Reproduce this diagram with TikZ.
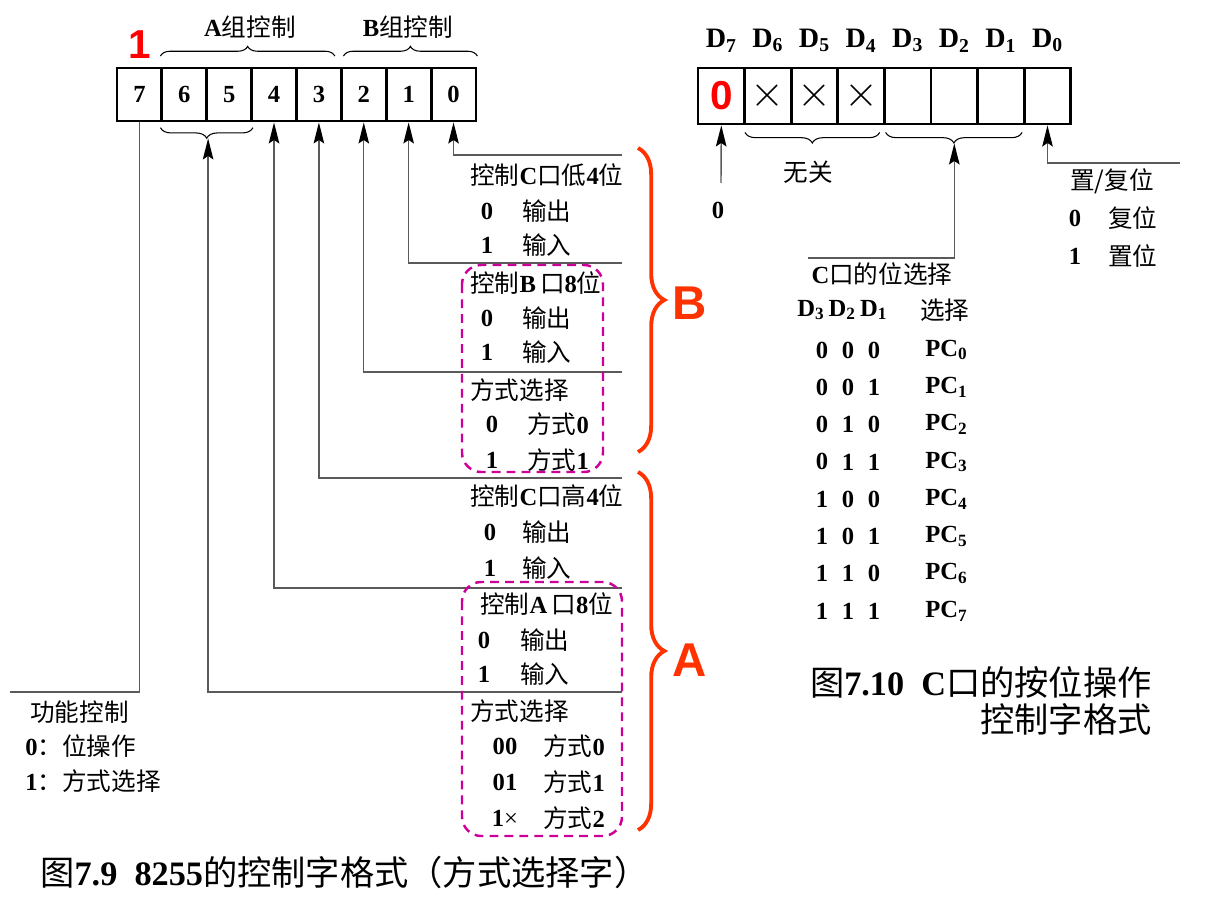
\documentclass[tikz,border=0pt]{standalone}
\usepackage{fontspec}
\setmainfont{Liberation Serif}
\newfontfamily\cjk{Noto Sans CJK SC}
\newfontfamily\sansfont{Liberation Sans}
\usepackage{tikz}
\usetikzlibrary{positioning,calc,arrows.meta,decorations.pathreplacing}

\newcommand{\zh}[1]{{\cjk\mdseries #1}}
\definecolor{markred}{RGB}{255,0,0}
\definecolor{bracered}{RGB}{255,51,0}
\definecolor{boxpink}{RGB}{204,0,153}
\definecolor{linegray}{RGB}{90,90,90}

\tikzset{
  txt/.style={inner sep=0pt, font=\fontsize{14}{16}\selectfont\bfseries},
  captxt/.style={inner sep=0pt, font=\fontsize{19.5}{24}\selectfont\bfseries},
  cell/.style={draw, line width=1.6pt, minimum width=0.8975cm, minimum height=1.06cm, inner sep=0pt, font=\fontsize{14}{16}\selectfont\bfseries},
  rcell/.style={draw, line width=1.6pt, minimum width=0.932cm, minimum height=1.12cm, inner sep=0pt},
  conn/.style={line width=0.8pt, linegray},
  arr/.style={conn, -{Stealth[length=12pt,width=6pt,inset=2pt,color=black]}},
  grpbrace/.style={decorate, decoration={brace, amplitude=5.5pt}, line width=0.6pt},
  lowbrace/.style={decorate, decoration={brace, mirror, amplitude=6pt}, line width=0.6pt},
  bigbrace/.style={decorate, decoration={brace, amplitude=15pt}, line width=2.2pt, bracered},
  pinkbox/.style={draw=boxpink, line width=1.4pt, dash pattern=on 5pt off 3.5pt, rounded corners=11pt},
  bigmark/.style={inner sep=0pt, font=\sansfont\bfseries\fontsize{27}{30}\selectfont, bracered},
  redmark/.style={inner sep=0pt, font=\sansfont\bfseries\fontsize{23}{26}\selectfont, markred},
}

\begin{document}
\begin{tikzpicture}[x=0.02cm,y=-0.02cm]
    \useasboundingbox (0,0) rectangle (1231,902);

    % Control word register (mode select)
    \foreach \b [count=\i from 0] in {7,6,5,4,3,2,1,0}
        \node[cell] (b\b) at (139.4+44.875*\i,94.5) {\b};
    \node[redmark] (one) at (140,45) {1};
    \node[txt] (ga) at (250,27) {A\zh{组控制}};
    \node[txt] (gb) at (408,27) {B\zh{组控制}};
    \draw[grpbrace] ([yshift=6pt]b6.north west) -- ([xshift=-4.5pt,yshift=6pt]b3.north east);
    \draw[grpbrace] ([xshift=2pt,yshift=6pt]b2.north west) -- ([yshift=6pt]b0.north east);
    \draw[lowbrace] ([yshift=-3pt]b6.south west) -- ([yshift=-3pt]b5.south east);
    \coordinate (t65) at ($(b6.south east)+(0,16)$);

    % Connectors
    \coordinate (e0) at (622,155);
    \coordinate (e1) at (622,263);
    \coordinate (e2) at (622,372);
    \coordinate (e3) at (622,478);
    \coordinate (e4) at (622,588);
    \coordinate (e65) at (622,692);
    \coordinate (f7) at (10,692);
    \draw[arr] (e0) -| (b0.south);
    \draw[arr] (e1) -| (b1.south);
    \draw[arr] (e2) -| (b2.south);
    \draw[arr] (e3) -| (b3.south);
    \draw[arr] (e4) -| (b4.south);
    \draw[arr] (e65) -| (t65);
    \draw[conn] (f7) -| (b7.south);

    % Bit meanings
    \node[txt, anchor=west] (clo) at (470,175) {\zh{控制}C\zh{口低}4\zh{位}};
    \node[txt, anchor=west] (pb) at (470,283) {\zh{控制}B\,\zh{口}8\zh{位}};
    \node[txt, anchor=west] (mb) at (470,390) {\zh{方式选择}};
    \node[txt, anchor=west] (chi) at (470,496) {\zh{控制}C\zh{口高}4\zh{位}};
    \node[txt, anchor=west] (pa) at (480,604) {\zh{控制}A\,\zh{口}8\zh{位}};
    \node[txt, anchor=west] (ma) at (470,711) {\zh{方式选择}};
    \foreach \xa/\xb/\y/\v/\t in {487/522/211/0/{\zh{输出}}, 487/522/245/1/{\zh{输入}},
        487/522/318/0/{\zh{输出}}, 487/522/352/1/{\zh{输入}},
        492/527/424/0/{\zh{方式}0}, 492/527/460/1/{\zh{方式}1},
        490/522/532/0/{\zh{输出}}, 490/522/568/1/{\zh{输入}},
        484/520/640/0/{\zh{输出}}, 484/520/674/1/{\zh{输入}},
        505/543/746/00/{\zh{方式}0}, 505/543/782/01/{\zh{方式}1},
        505/543/818/{1{\mdseries ×}}/{\zh{方式}2}} {
        \node[txt] (v\y) at (\xa,\y) {\v};
        \node[txt, anchor=west] (t\y) at (\xb,\y) {\t};
    }
    \draw[pinkbox] (462,265) rectangle (603,472);
    \draw[pinkbox] (462,582) rectangle (622,836);

    % Port groups
    \draw[bigbrace] (638,148) -- (638,452);
    \draw[bigbrace] (638,472) -- (638,830);
    \node[bigmark] (grpb) at (690,303) {B};
    \node[bigmark] (grpa) at (690,660) {A};

    % Bit 7
    \node[txt, anchor=west] (fc) at (30,712) {\zh{功能控制}};
    \node[txt, anchor=west] (fc0) at (25,746) {0\zh{：位操作}};
    \node[txt, anchor=west] (fc1) at (25,781) {1\zh{：方式选择}};

    \node[captxt, anchor=west] (cap1) at (40,872) {\zh{图}7.9\ \ 8255\zh{的控制字格式（方式选择字）}};

    % Bit set/reset register
    \foreach \b [count=\i from 0] in {7,6,5,4,3,2,1,0} {
        \node[rcell] (r\b) at (721.3+46.6*\i,96) {};
        \node[txt, font=\fontsize{16}{18}\selectfont\bfseries] (d\b) at ($(r\b.north)+(0,-26)$) {D\textsubscript{\b}};
    }
    \node[redmark] (z7) at (r7) {0};
    \foreach \b in {6,5,4}
        \node[inner sep=0pt, font=\fontsize{24}{24}\selectfont] (x\b) at (r\b) {$\times$};
    \draw[lowbrace] ([xshift=1pt,yshift=-4pt]r6.south west) -- ([xshift=-3.5pt,yshift=-4pt]r4.south east);
    \draw[lowbrace] ([xshift=1.5pt,yshift=-4pt]r3.south west) -- ([xshift=-2pt,yshift=-4pt]r1.south east);
    \coordinate (t31) at ($(r2.south)+(0,18)$);

    \coordinate (s7) at (721,183);
    \coordinate (sel) at (808,258);
    \coordinate (s0) at (1180,163);
    \draw[arr] (s7) -- (r7.south);
    \draw[arr] (sel) -| (t31);
    \draw[arr] (s0) -| (r0.south);

    \node[txt] (zero) at (718,210) {0};
    \node[txt] (wg) at (808,172) {\zh{无关}};
    \node[txt, anchor=west] (sr) at (1070,181) {\zh{置/复位}};
    \node[txt] (sr0) at (1075,218) {0};
    \node[txt, anchor=west] (sr0t) at (1108,218) {\zh{复位}};
    \node[txt] (sr1) at (1075,256) {1};
    \node[txt, anchor=west] (sr1t) at (1108,256) {\zh{置位}};

    % Bit select table
    \node[txt] (cs) at (882,274) {C\zh{口的位选择}};
    \node[txt, anchor=west] (hd) at (797,310) {D\textsubscript{3}\,D\textsubscript{2}\,D\textsubscript{1}};
    \node[txt, anchor=west] (hs) at (920,310) {\zh{选择}};
    \foreach \p/\q/\r [count=\n from 0] in {0/0/0,0/0/1,0/1/0,0/1/1,1/0/0,1/0/1,1/1/0,1/1/1} {
        \node[txt] (p\n) at (822,350+37.3*\n) {\p};
        \node[txt] (q\n) at (848,350+37.3*\n) {\q};
        \node[txt] (r\n x) at (874,350+37.3*\n) {\r};
        \node[txt, anchor=west] (pc\n) at (925,350+37.3*\n) {PC\textsubscript{\n}};
    }

    \node[captxt, anchor=east] (cap2a) at (1152,682) {\zh{图}7.10\ \ C\zh{口的按位操作}};
    \node[captxt, anchor=east] (cap2b) at (1152,719) {\zh{控制字格式}};
\end{tikzpicture}
\end{document}
